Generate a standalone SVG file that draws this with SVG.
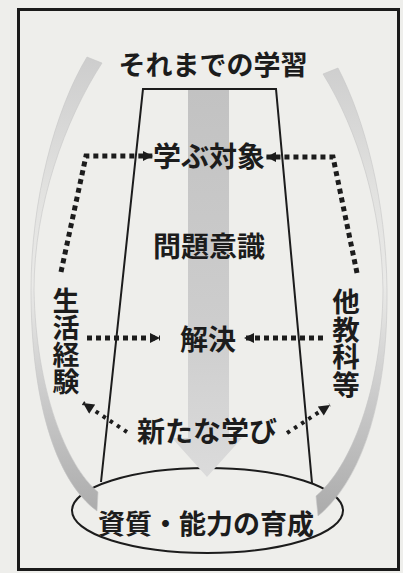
<svg xmlns="http://www.w3.org/2000/svg" width="403" height="573" viewBox="0 0 403 573">
<style>
.t{font-family:"Noto Sans CJK JP","Noto Sans CJK SC",sans-serif;font-weight:700;fill:#1c1c1c;text-anchor:middle;dominant-baseline:central}
.v{font-family:"Noto Sans CJK JP","Noto Sans CJK SC",sans-serif;font-weight:700;fill:#1c1c1c;text-anchor:middle;writing-mode:vertical-rl}
.dot{fill:none;stroke:#1c1c1c;stroke-width:5;stroke-dasharray:5 4}
.dot2{fill:none;stroke:#1c1c1c;stroke-width:4;stroke-dasharray:3.5 5}
.ln{fill:none;stroke:#1c1c1c;stroke-width:2}
.band{stroke:#c6c6c6;stroke-width:0.6}
</style>
<defs>
<marker id="ah" viewBox="0 0 10 10" refX="10" refY="5" markerWidth="11" markerHeight="10" markerUnits="userSpaceOnUse" orient="auto">
<path d="M0,0 L10,5 L0,10 z" fill="#1c1c1c"/>
</marker>
<marker id="ah2" viewBox="0 0 10 10" refX="10" refY="5" markerWidth="14" markerHeight="11" markerUnits="userSpaceOnUse" orient="auto">
<path d="M0,0 L10,5 L0,10 z" fill="#1c1c1c"/>
</marker>
<linearGradient id="curveL" gradientUnits="userSpaceOnUse" x1="0" y1="57" x2="0" y2="512">
<stop offset="0" stop-color="#cdcdcd"/>
<stop offset="0.3" stop-color="#e2e2e0"/>
<stop offset="0.5" stop-color="#eaeae8"/>
<stop offset="0.75" stop-color="#cacaca"/>
<stop offset="1" stop-color="#acacac"/>
</linearGradient>
<linearGradient id="mid" gradientUnits="userSpaceOnUse" x1="0" y1="90" x2="0" y2="477">
<stop offset="0" stop-color="#c2c2c2"/>
<stop offset="0.6" stop-color="#cdcdcd"/>
<stop offset="1" stop-color="#dbdbdb"/>
</linearGradient>
</defs>
<rect x="0" y="0" width="403" height="573" fill="#eeeeeb"/>
<rect id="frame" x="18.5" y="9.5" width="380" height="560" fill="none" stroke="#1a1a1a" stroke-width="3"/>

<g id="outcome">
<ellipse cx="207.5" cy="510.5" rx="135.5" ry="42.5" fill="none" stroke="#1c1c1c" stroke-width="2"/>
<text class="t" x="206" y="522" font-size="27">資質・能力の育成</text>
</g>

<g id="funnel">
<path class="ln" d="M101 482 L143 89 L276 89 L312 483"/>
<path d="M188 90 L229 90 L229 438 L242 438 L207 477 L172 438 L188 438 Z" fill="url(#mid)"/>
</g>

<g id="connectors">
<path class="band" fill="url(#curveL)" d="M87 57 C55 110 31 200 31 290 C31 400 55 480 97 511 L98 492 C66 465 36 390 34 290 C34 205 65 120 102 63 Z"/>
<path class="band" fill="url(#curveL)" d="M338 68 C365 120 386 200 387 290 C388 400 362 480 318 516 L316 496 C350 468 382 390 383 290 C382 210 358 130 323 74 Z"/>
<path class="dot" d="M61 272 L86 156 L153 156" marker-end="url(#ah)"/>
<path class="dot" d="M357 273 L333 157 L266 157" marker-end="url(#ah)"/>
<path class="dot" d="M87 338 L160 338" marker-end="url(#ah)"/>
<path class="dot" d="M323 338 L244 338" marker-end="url(#ah)"/>
<path class="dot2" d="M127 432 L83 403" marker-end="url(#ah2)"/>
<path class="dot2" d="M287 433 L330 405" marker-end="url(#ah2)"/>
</g>

<g id="previous"><text class="t" x="213" y="63" font-size="27">それまでの学習</text></g>
<g id="target"><text class="t" x="209" y="155" font-size="28">学ぶ対象</text></g>
<g id="awareness"><text class="t" x="209" y="245" font-size="28">問題意識</text></g>
<g id="solution"><text class="t" x="208" y="338" font-size="28">解決</text></g>
<g id="newlearning"><text class="t" x="207" y="430" font-size="28">新たな学び</text></g>
<g id="life"><text class="v" x="66" y="341" font-size="27">生活経験</text></g>
<g id="subjects"><text class="v" x="346" y="343" font-size="27.5">他教科等</text></g>
</svg>
